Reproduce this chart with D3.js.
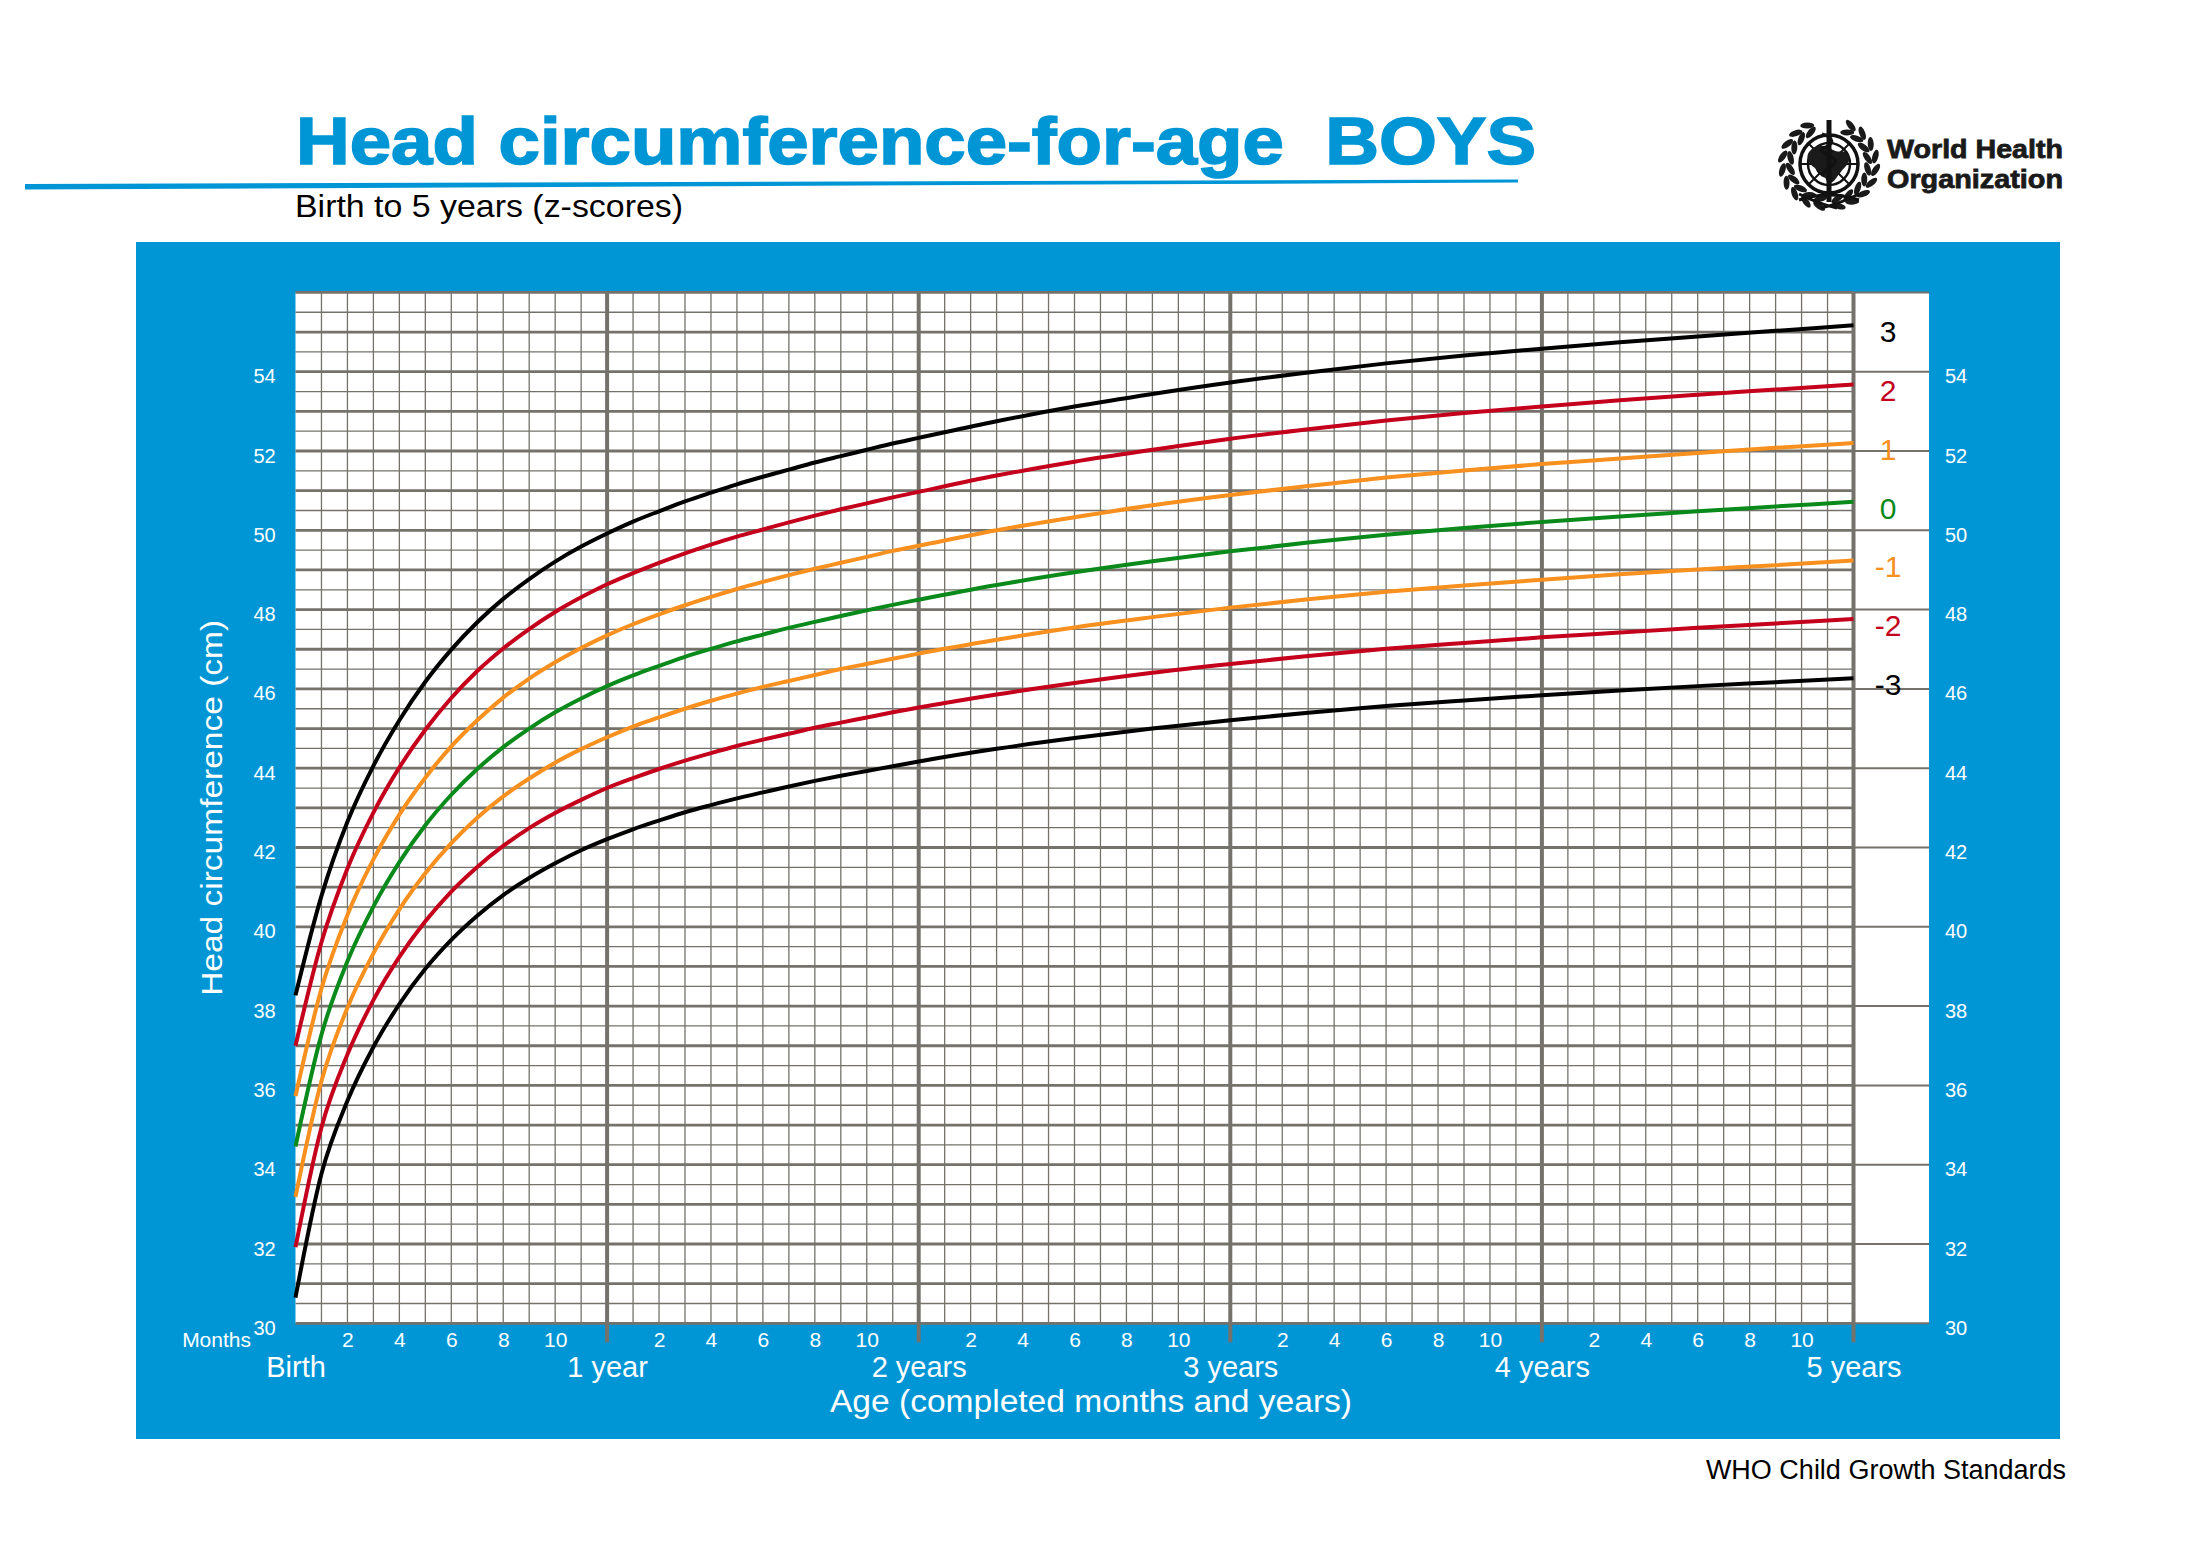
<!DOCTYPE html>
<html>
<head>
<meta charset="utf-8">
<script src="https://cdn.jsdelivr.net/npm/d3@7"></script>
<style>
  html, body { margin: 0; padding: 0; background: #fff; }
  svg { display: block; font-family: "Liberation Sans", Arial, sans-serif; }
</style>
</head>
<body>
<svg id="chart" width="2198" height="1550"></svg>
<script>
// Age in completed months
const months = [0, 1, 2, 3, 4, 5, 6, 7, 8, 9, 10, 11, 12, 13, 14, 15, 16, 17, 18, 19, 20, 21, 22, 23, 24,
                27, 30, 33, 36, 39, 42, 45, 48, 51, 54, 57, 60];

// Head circumference (cm) for each z-score line
const sdNeg3 = [30.65, 33.77, 35.61, 36.97, 38.05, 38.94, 39.67, 40.28, 40.80, 41.23, 41.60, 41.93, 42.21, 42.46, 42.68, 42.89, 43.07, 43.24, 43.39, 43.54, 43.68, 43.81, 43.93, 44.05, 44.17,
                44.49, 44.76, 45.00, 45.21, 45.40, 45.57, 45.71, 45.84, 45.96, 46.07, 46.17, 46.27];
const sdNeg2 = [31.92, 34.94, 36.78, 38.15, 39.24, 40.14, 40.89, 41.51, 42.04, 42.49, 42.87, 43.20, 43.50, 43.75, 43.98, 44.19, 44.38, 44.56, 44.72, 44.87, 45.02, 45.15, 45.28, 45.41, 45.53,
                45.86, 46.15, 46.41, 46.63, 46.83, 47.01, 47.16, 47.30, 47.42, 47.54, 47.65, 47.76];
const sdNeg1 = [33.19, 36.11, 37.96, 39.33, 40.44, 41.35, 42.11, 42.75, 43.29, 43.74, 44.14, 44.48, 44.78, 45.05, 45.28, 45.50, 45.70, 45.88, 46.05, 46.20, 46.35, 46.50, 46.63, 46.76, 46.89,
                47.24, 47.55, 47.81, 48.05, 48.26, 48.45, 48.61, 48.75, 48.89, 49.01, 49.12, 49.24];
const sd0    = [34.46, 37.28, 39.13, 40.51, 41.63, 42.56, 43.33, 43.98, 44.53, 45.00, 45.41, 45.76, 46.07, 46.34, 46.58, 46.81, 47.01, 47.20, 47.37, 47.54, 47.69, 47.84, 47.98, 48.12, 48.25,
                48.62, 48.94, 49.22, 49.47, 49.69, 49.89, 50.06, 50.21, 50.35, 50.48, 50.60, 50.72];
const sd1    = [35.73, 38.44, 40.30, 41.70, 42.83, 43.76, 44.55, 45.21, 45.78, 46.26, 46.67, 47.03, 47.35, 47.63, 47.88, 48.11, 48.32, 48.52, 48.70, 48.87, 49.03, 49.18, 49.33, 49.48, 49.61,
                50.00, 50.33, 50.63, 50.89, 51.12, 51.33, 51.51, 51.67, 51.81, 51.95, 52.08, 52.20];
const sd2    = [37.00, 39.61, 41.47, 42.88, 44.02, 44.97, 45.77, 46.45, 47.02, 47.51, 47.94, 48.31, 48.64, 48.92, 49.18, 49.42, 49.64, 49.84, 50.02, 50.20, 50.37, 50.53, 50.68, 50.83, 50.97,
                51.38, 51.73, 52.03, 52.31, 52.55, 52.77, 52.96, 53.12, 53.28, 53.42, 53.55, 53.68];
const sd3    = [38.27, 40.78, 42.65, 44.06, 45.21, 46.18, 46.99, 47.68, 48.27, 48.77, 49.21, 49.59, 49.92, 50.22, 50.48, 50.73, 50.95, 51.16, 51.35, 51.53, 51.71, 51.87, 52.03, 52.19, 52.33,
                52.75, 53.12, 53.44, 53.73, 53.98, 54.21, 54.41, 54.58, 54.74, 54.89, 55.03, 55.17];

const zLabels = ["3", "2", "1", "0", "-1", "-2", "-3"];
const yTicks = [30, 32, 34, 36, 38, 40, 42, 44, 46, 48, 50, 52, 54];
const monthTicks = [2, 4, 6, 8, 10, 14, 16, 18, 20, 22, 26, 28, 30, 32, 34, 38, 40, 42, 44, 46, 50, 52, 54, 56, 58];
const yearTicks = [0, 12, 24, 36, 48, 60];
const yearLabels = ["Birth", "1 year", "2 years", "3 years", "4 years", "5 years"];

const BLUE = "#0096d6";
const GRID = "#74726b";

const series = [
    { label: zLabels[0], values: sd3,    color: "#000000" },
    { label: zLabels[1], values: sd2,    color: "#c4001c" },
    { label: zLabels[2], values: sd1,    color: "#f7901e" },
    { label: zLabels[3], values: sd0,    color: "#0a8a1a" },
    { label: zLabels[4], values: sdNeg1, color: "#f7901e" },
    { label: zLabels[5], values: sdNeg2, color: "#c4001c" },
    { label: zLabels[6], values: sdNeg3, color: "#000000" }
];

const svg = d3.select("#chart");

const x = d3.scaleLinear().domain([0, 60]).range([295.5, 1853.5]);
const y = d3.scaleLinear().domain([30, 56]).range([1323.3, 292.4]);
const labelColRight = 1929;

// ---- header ----
svg.append("text")
    .attr("x", 296).attr("y", 164)
    .attr("fill", BLUE)
    .attr("stroke", BLUE).attr("stroke-width", 1.6)
    .attr("font-size", 66).attr("font-weight", 700)
    .attr("textLength", 1240).attr("lengthAdjust", "spacingAndGlyphs")
    .style("white-space", "pre")
    .text("Head circumference-for-age  BOYS");

// swoosh under the title
svg.append("path")
    .attr("d", "M25,184 L1518,179.5 L1518,182.5 L25,189.5 Z")
    .attr("fill", BLUE);

svg.append("text")
    .attr("x", 295).attr("y", 217)
    .attr("fill", "#000")
    .attr("font-size", 32)
    .attr("textLength", 388).attr("lengthAdjust", "spacingAndGlyphs")
    .text("Birth to 5 years (z-scores)");

// WHO emblem (simplified)
const logo = svg.append("g").attr("transform", "translate(1829,164)");
const globe = logo.append("g");
[29, 21, 13, 5].forEach(r => {
    globe.append("circle").attr("r", r).attr("fill", "none").attr("stroke", "#111").attr("stroke-width", r === 29 ? 3.5 : 2.5);
});
d3.range(0, 180, 45).forEach(a => {
    globe.append("line")
        .attr("x1", -29).attr("x2", 29).attr("y1", 0).attr("y2", 0)
        .attr("transform", `rotate(${a})`)
        .attr("stroke", "#111").attr("stroke-width", 2);
});
globe.append("path")
    .attr("d", "M-20,-12 C-12,-22 -2,-18 4,-14 C10,-10 16,-16 20,-8 C22,0 14,4 10,10 C6,16 2,22 -2,18 C-4,10 -10,8 -14,4 C-20,0 -24,-6 -20,-12 Z")
    .attr("fill", "#1a1a1a");
logo.append("rect").attr("x", -2.5).attr("y", -44).attr("width", 5).attr("height", 82).attr("fill", "#111");
logo.append("path")
    .attr("d", "M-7,-30 C6,-26 6,-20 -6,-16 C-14,-12 8,-8 6,-2 C4,4 -8,6 -6,12")
    .attr("fill", "none").attr("stroke", "#111").attr("stroke-width", 3);
// laurel branches: two rows of leaves on each side
[-1, 1].forEach(side => {
    d3.range(0, 9).forEach(i => {
        const ang = (100 + i * 18) * Math.PI / 180;
        [37, 45].forEach((r, k) => {
            const ex = side * (Math.abs(Math.cos(ang) * r) + 2);
            const ey = Math.sin(ang) * r * 0.95;
            const rot = (side === -1 ? -90 + (i * 18 - 80) : 90 - (i * 18 - 80)) + (k ? 25 : -25);
            logo.append("ellipse")
                .attr("cx", ex).attr("cy", ey)
                .attr("rx", 7).attr("ry", 3)
                .attr("transform", `rotate(${rot},${ex},${ey})`)
                .attr("fill", "#1a1a1a");
        });
    });
});
logo.append("path")
    .attr("d", "M-30,36 Q0,26 30,36 M-30,30 Q-10,40 8,44 M30,30 Q10,40 -8,44")
    .attr("fill", "none").attr("stroke", "#111").attr("stroke-width", 3);

[["World Health", 158], ["Organization", 188]].forEach(([t, by]) => {
    svg.append("text")
        .attr("x", 1887).attr("y", by)
        .attr("font-family", "'Liberation Sans Narrow', 'Liberation Sans', Arial, sans-serif")
        .attr("font-weight", 700).attr("font-size", 26)
        .attr("textLength", 176).attr("lengthAdjust", "spacingAndGlyphs")
        .attr("fill", "#1a1a1a").attr("stroke", "#1a1a1a").attr("stroke-width", 0.8)
        .text(t);
});

// ---- blue panel and plotting area ----
svg.append("rect")
    .attr("x", 136).attr("y", 242)
    .attr("width", 1924).attr("height", 1197)
    .attr("fill", BLUE);

svg.append("rect")
    .attr("x", x(0)).attr("y", y(56))
    .attr("width", labelColRight - x(0)).attr("height", y(30) - y(56))
    .attr("fill", "#fff");

const grid = svg.append("g");

// month lines
grid.selectAll(".vminor")
    .data(d3.range(1, 60).filter(m => m % 12 !== 0))
    .join("line")
    .attr("x1", d => x(d)).attr("x2", d => x(d))
    .attr("y1", y(56)).attr("y2", y(30))
    .attr("stroke", GRID).attr("stroke-width", 1.3);

// half-centimetre lines
grid.selectAll(".hminor")
    .data(d3.range(30.5, 56, 1))
    .join("line")
    .attr("x1", x(0)).attr("x2", x(60))
    .attr("y1", d => y(d)).attr("y2", d => y(d))
    .attr("stroke", GRID).attr("stroke-width", 1.3);

// centimetre lines
grid.selectAll(".hmajor")
    .data(d3.range(30, 57, 1))
    .join("line")
    .attr("x1", x(0)).attr("x2", x(60))
    .attr("y1", d => y(d)).attr("y2", d => y(d))
    .attr("stroke", GRID).attr("stroke-width", 2.8);

// even centimetre lines run on through the label column
grid.selectAll(".hcol")
    .data(d3.range(30, 57, 2))
    .join("line")
    .attr("x1", x(60)).attr("x2", labelColRight)
    .attr("y1", d => y(d)).attr("y2", d => y(d))
    .attr("stroke", GRID).attr("stroke-width", 2);

// year lines, with a tick below the axis
grid.selectAll(".vyear")
    .data(yearTicks.slice(1))
    .join("line")
    .attr("x1", d => x(d)).attr("x2", d => x(d))
    .attr("y1", y(56)).attr("y2", y(30) + 19)
    .attr("stroke", GRID).attr("stroke-width", 4);

// ---- curves ----
const line = d3.line()
    .x((d, i) => x(months[i]))
    .y(d => y(d))
    .curve(d3.curveMonotoneX);

svg.append("g").selectAll("path")
    .data(series)
    .join("path")
    .attr("d", d => line(d.values))
    .attr("fill", "none")
    .attr("stroke", d => d.color)
    .attr("stroke-width", 4)
    .attr("stroke-linejoin", "round");

svg.append("g").selectAll("text")
    .data(series)
    .join("text")
    .attr("x", 1888)
    .attr("y", d => y(d.values[d.values.length - 1]) + 17)
    .attr("text-anchor", "middle")
    .attr("font-size", 30)
    .attr("fill", d => d.color)
    .text(d => d.label);

// ---- axes ----
const yLeft = svg.append("g")
    .attr("transform", `translate(${x(0)},0)`)
    .call(d3.axisLeft(y).tickValues(yTicks).tickSize(0));
const yRight = svg.append("g")
    .attr("transform", `translate(${labelColRight},0)`)
    .call(d3.axisRight(y).tickValues(yTicks).tickSize(0));

[[yLeft, -31], [yRight, 27]].forEach(([g, dx]) => {
    g.select(".domain").remove();
    g.selectAll("text")
        .attr("x", dx).attr("dy", 0)
        .attr("transform", "translate(0,11)")
        .attr("text-anchor", "middle")
        .attr("font-size", 20)
        .attr("font-family", "'Liberation Sans', Arial, sans-serif")
        .attr("fill", "#fff");
});

const monthAxis = svg.append("g")
    .attr("transform", `translate(0,${y(30)})`)
    .call(d3.axisBottom(x).tickValues(monthTicks).tickSize(0).tickFormat(d => d % 12));
monthAxis.select(".domain").remove();
monthAxis.selectAll("text")
    .attr("y", 24).attr("dy", 0)
    .attr("font-size", 21)
    .attr("font-family", "'Liberation Sans', Arial, sans-serif")
    .attr("fill", "#fff");

const yearAxis = svg.append("g")
    .attr("transform", `translate(0,${y(30)})`)
    .call(d3.axisBottom(x).tickValues(yearTicks).tickSize(0).tickFormat((d, i) => yearLabels[i]));
yearAxis.select(".domain").remove();
yearAxis.selectAll("text")
    .attr("y", 54).attr("dy", 0)
    .attr("font-size", 29)
    .attr("font-family", "'Liberation Sans', Arial, sans-serif")
    .attr("fill", "#fff");

svg.append("text")
    .attr("x", 251).attr("y", 1347)
    .attr("text-anchor", "end")
    .attr("font-size", 21)
    .attr("fill", "#fff")
    .text("Months");

svg.append("text")
    .attr("x", 830).attr("y", 1412)
    .attr("font-size", 31)
    .attr("fill", "#fff")
    .attr("textLength", 522).attr("lengthAdjust", "spacingAndGlyphs")
    .text("Age (completed months and years)");

svg.append("text")
    .attr("transform", `translate(222,${(y(30) + y(56)) / 2}) rotate(-90)`)
    .attr("text-anchor", "middle")
    .attr("font-size", 30)
    .attr("fill", "#fff")
    .attr("textLength", 376).attr("lengthAdjust", "spacingAndGlyphs")
    .text("Head circumference (cm)");

svg.append("text")
    .attr("x", 2066).attr("y", 1479)
    .attr("text-anchor", "end")
    .attr("font-size", 27)
    .attr("fill", "#000")
    .text("WHO Child Growth Standards");
</script>
</body>
</html>
